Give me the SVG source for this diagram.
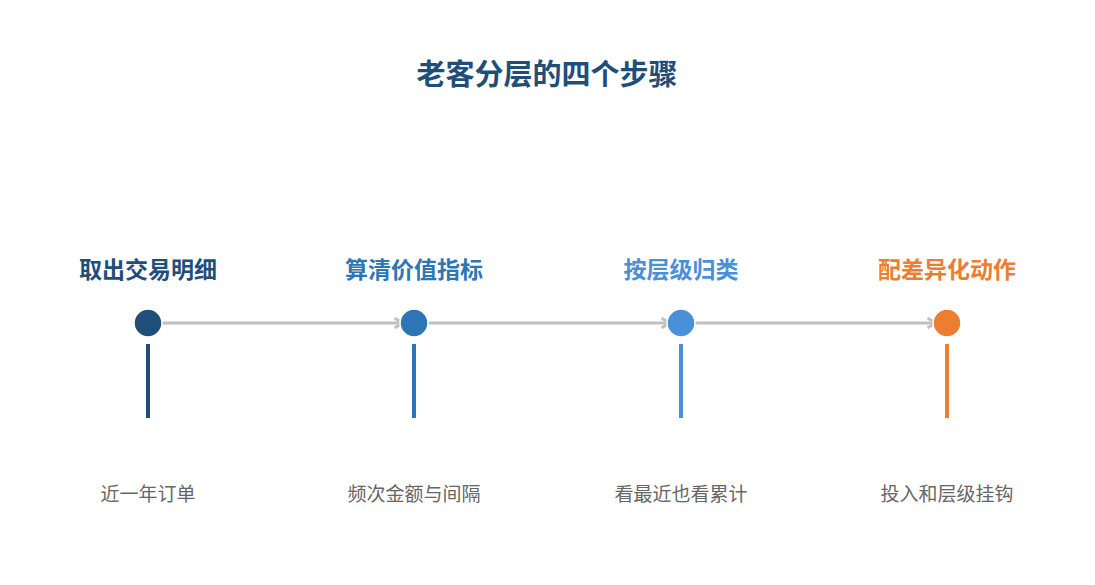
<svg xmlns="http://www.w3.org/2000/svg" width="1095" height="585" viewBox="0 0 1095 585">
<style>
.t{font-family:"Liberation Sans","Noto Sans CJK SC",sans-serif;text-anchor:middle}
.title{font-size:29px;font-weight:bold;fill:#1f4e79}
.lbl{font-size:23px;font-weight:bold}
.sub{font-size:19px;fill:#666666}
.conn{stroke:#c0c0c0;stroke-width:3;fill:none}
.dot{stroke:#ffffff;stroke-width:1.5}
.stem{stroke-width:4}
</style>
<defs>
<marker id="ah" viewBox="0 0 10 10" refX="8" refY="5" markerWidth="4" markerHeight="4" orient="auto" markerUnits="strokeWidth">
<path d="M1,1 L8,5 L1,9" fill="none" stroke="#c0c0c0" stroke-width="2.5"/>
</marker>
</defs>
<rect width="1095" height="585" fill="#ffffff"/>
<text class="t title" x="547" y="85">老客分层的四个步骤</text>
<g id="connectors">
<line class="conn" x1="148" y1="323" x2="403" y2="323" marker-end="url(#ah)"/>
<line class="conn" x1="414" y1="323" x2="670" y2="323" marker-end="url(#ah)"/>
<line class="conn" x1="681" y1="323" x2="936" y2="323" marker-end="url(#ah)"/>
</g>
<g id="step1">
<text class="t lbl" x="148" y="278" fill="#1f4e79">取出交易明细</text>
<circle class="dot" cx="148" cy="323" r="14" fill="#1f4e79"/>
<line class="stem" x1="148" y1="344" x2="148" y2="418" stroke="#1f4e79"/>
<text class="t sub" x="148" y="501">近一年订单</text>
</g>
<g id="step2">
<text class="t lbl" x="414" y="278" fill="#2e75b6">算清价值指标</text>
<circle class="dot" cx="414" cy="323" r="14" fill="#2e75b6"/>
<line class="stem" x1="414" y1="344" x2="414" y2="418" stroke="#2e75b6"/>
<text class="t sub" x="414" y="501">频次金额与间隔</text>
</g>
<g id="step3">
<text class="t lbl" x="681" y="278" fill="#4a90d9">按层级归类</text>
<circle class="dot" cx="681" cy="323" r="14" fill="#4a90d9"/>
<line class="stem" x1="681" y1="344" x2="681" y2="418" stroke="#4a90d9"/>
<text class="t sub" x="681" y="501">看最近也看累计</text>
</g>
<g id="step4">
<text class="t lbl" x="947" y="278" fill="#ed7d31">配差异化动作</text>
<circle class="dot" cx="947" cy="323" r="14" fill="#ed7d31"/>
<line class="stem" x1="947" y1="344" x2="947" y2="418" stroke="#ed7d31"/>
<text class="t sub" x="947" y="501">投入和层级挂钩</text>
</g>
</svg>
